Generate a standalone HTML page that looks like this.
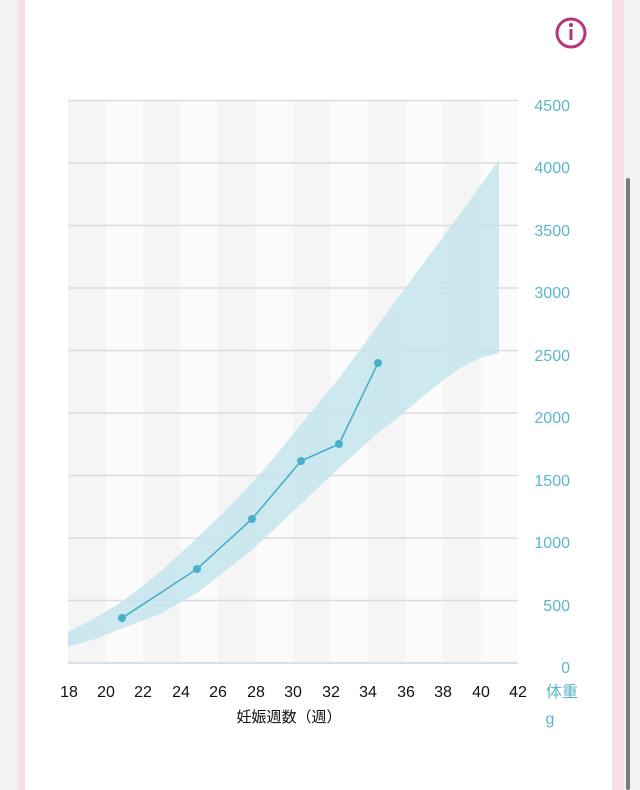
<!DOCTYPE html>
<html><head><meta charset="utf-8"><style>
body{margin:0;width:640px;height:790px;background:#f3f1f2;overflow:hidden;font-family:"Liberation Sans","Noto Sans CJK JP",sans-serif}
</style></head><body>
<svg width="640" height="790" xmlns="http://www.w3.org/2000/svg" style="position:absolute;left:0;top:0">
<rect x="18" y="0" width="606" height="790" fill="#f7dde6"/>
<rect x="25" y="0" width="587" height="790" fill="#ffffff"/>
<rect x="626" y="178" width="4" height="612" rx="2" fill="#7a7a7a"/>
<circle cx="571" cy="33" r="14" fill="none" stroke="#b8357a" stroke-width="3"/>
<circle cx="571" cy="25" r="2" fill="#b8357a"/>
<rect x="569.5" y="29" width="3" height="11" fill="#b8357a"/>
<g fill="#f5f5f5">
<rect x="68" y="100" width="37.5" height="563"/><rect x="143" y="100" width="37.5" height="563"/>
<rect x="218" y="100" width="37.5" height="563"/><rect x="293" y="100" width="37.5" height="563"/>
<rect x="368" y="100" width="37.5" height="563"/><rect x="443" y="100" width="37.5" height="563"/>
</g>
<g fill="#fbfbfb">
<rect x="105.5" y="100" width="37.5" height="563"/><rect x="180.5" y="100" width="37.5" height="563"/>
<rect x="255.5" y="100" width="37.5" height="563"/><rect x="330.5" y="100" width="37.5" height="563"/>
<rect x="405.5" y="100" width="37.5" height="563"/><rect x="480.5" y="100" width="37.5" height="563"/>
</g>
<g stroke="#dcdcdc" stroke-width="1.5">
<line x1="68" x2="518" y1="100.5" y2="100.5"/><line x1="68" x2="518" y1="163" y2="163"/>
<line x1="68" x2="518" y1="225.5" y2="225.5"/><line x1="68" x2="518" y1="288" y2="288"/>
<line x1="68" x2="518" y1="350.5" y2="350.5"/><line x1="68" x2="518" y1="413" y2="413"/>
<line x1="68" x2="518" y1="475.5" y2="475.5"/><line x1="68" x2="518" y1="538" y2="538"/>
<line x1="68" x2="518" y1="600.5" y2="600.5"/>
</g>
<polygon fill="#c4e4ec" fill-opacity="0.85" points="68,632 95,618 123,601 160,572 197,538 225,511 252,483 277,454 302,423 321,400 340,377 378,325 420,268 460,214 499,160 499,353 480,358 460,368 443,380 420,399 400,416 378,433 340,467 302,503 252,550 197,593 160,614 123,628 95,639 68,647"/>
<line x1="68" x2="518" y1="663" y2="663" stroke="#c5d8e6" stroke-width="1.5"/>
<polyline fill="none" stroke="#4aafcb" stroke-width="1.6" points="122,618 197,569 252,519 301,461 339,444 378,363"/>
<g fill="#4aafcb"><circle cx="122" cy="618" r="4"/><circle cx="197" cy="569" r="4"/><circle cx="252" cy="519" r="4"/><circle cx="301" cy="461" r="4"/><circle cx="339" cy="444" r="4"/><circle cx="378" cy="363" r="4"/></g>
<g fill="#5cb6c9" font-size="16" text-anchor="end" font-family="Liberation Sans,sans-serif">
<text x="570" y="111">4500</text><text x="570" y="173">4000</text><text x="570" y="236">3500</text>
<text x="570" y="298">3000</text><text x="570" y="361">2500</text><text x="570" y="423">2000</text>
<text x="570" y="486">1500</text><text x="570" y="548">1000</text><text x="570" y="611">500</text>
<text x="570" y="673">0</text>
</g>
<g fill="#111" font-size="16" text-anchor="middle" font-family="Liberation Sans,sans-serif">
<text x="69" y="697">18</text><text x="106" y="697">20</text><text x="143" y="697">22</text><text x="181" y="697">24</text>
<text x="218" y="697">26</text><text x="256" y="697">28</text><text x="293" y="697">30</text><text x="331" y="697">32</text>
<text x="368" y="697">34</text><text x="406" y="697">36</text><text x="443" y="697">38</text><text x="481" y="697">40</text>
<text x="518" y="697">42</text>
</g>
<text x="562" y="697" fill="#5cb6c9" font-size="16" text-anchor="middle" font-family="Liberation Sans,Noto Sans CJK JP,sans-serif">体重</text>
<text x="550" y="724" fill="#5cb6c9" font-size="16" text-anchor="middle" font-family="Liberation Sans,sans-serif">g</text>
<text x="289" y="722" fill="#111" font-size="15" text-anchor="middle" font-family="Liberation Sans,Noto Sans CJK JP,sans-serif">妊娠週数（週）</text>
</svg>
</body></html>
